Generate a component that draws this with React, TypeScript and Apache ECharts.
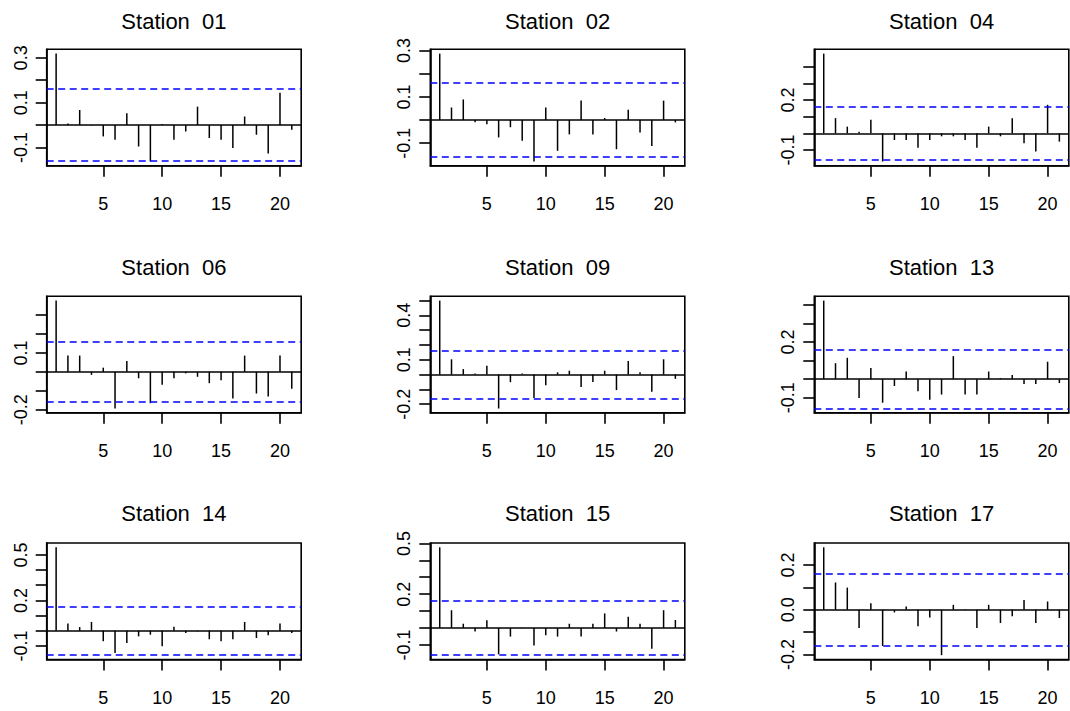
import React, { useEffect, useRef } from "react";
import * as echarts from "echarts";

const stations = ["01", "02", "04", "06", "09", "13", "14", "15", "17"];
const lags = [1, 2, 3, 4, 5, 6, 7, 8, 9, 10, 11, 12, 13, 14, 15, 16, 17, 18, 19, 20, 21];
const xTicks = [5, 10, 15, 20];

const acf01 = [0.319, 0.007, 0.067, -0.002, -0.051, -0.066, 0.053, -0.096, -0.163, 0.005, -0.066, -0.029, 0.082, -0.058, -0.066, -0.103, 0.038, -0.044, -0.127, 0.144, -0.021];
const acf02 = [0.287, 0.054, 0.089, -0.010, -0.018, -0.075, -0.031, -0.089, -0.179, 0.054, -0.133, -0.062, 0.084, -0.062, 0.009, -0.126, 0.045, -0.054, -0.112, 0.084, -0.010];
const acf04 = [0.478, 0.091, 0.040, 0.010, 0.081, -0.169, -0.040, -0.040, -0.087, -0.040, -0.018, -0.018, -0.040, -0.087, 0.040, -0.018, 0.091, -0.060, -0.109, 0.171, -0.050];
const acf06 = [0.377, 0.086, 0.086, -0.016, 0.022, -0.194, 0.057, -0.034, -0.166, -0.069, -0.034, -0.008, -0.026, -0.060, -0.045, -0.141, 0.086, -0.115, -0.130, 0.086, -0.089];
const acf09 = [0.499, 0.103, 0.037, 0.007, 0.059, -0.229, -0.051, 0.007, -0.158, -0.073, 0.015, 0.026, -0.084, -0.051, 0.026, -0.105, 0.092, 0.015, -0.116, 0.103, -0.029];
const acf13 = [0.423, 0.086, 0.115, -0.101, 0.060, -0.127, -0.037, 0.041, -0.065, -0.111, -0.083, 0.124, -0.083, -0.083, 0.041, 0.005, 0.023, -0.026, -0.026, 0.094, -0.021];
const acf14 = [0.550, 0.048, 0.024, 0.058, -0.069, -0.147, -0.080, -0.037, -0.026, -0.102, 0.026, -0.015, -0.004, -0.056, -0.069, -0.056, 0.058, -0.048, -0.030, 0.048, -0.015];
const acf15 = [0.477, 0.105, 0.025, -0.021, 0.045, -0.156, -0.051, 0.002, -0.104, -0.043, -0.051, 0.025, -0.051, 0.025, 0.086, -0.021, 0.066, 0.025, -0.123, 0.105, 0.047];
const acf17 = [0.279, 0.122, 0.099, -0.081, 0.029, -0.162, -0.012, 0.015, -0.074, -0.035, -0.203, 0.022, 0.002, -0.081, 0.022, -0.059, -0.029, 0.044, -0.059, 0.037, -0.037];

const acfs = [acf01, acf02, acf04, acf06, acf09, acf13, acf14, acf15, acf17];
const clims = [0.159, 0.161, 0.158, 0.158, 0.158, 0.158, 0.161, 0.161, 0.156];

const yTicks = [
  [-0.1, 0, 0.1, 0.2, 0.3],
  [-0.1, 0, 0.1, 0.2, 0.3],
  [-0.1, 0, 0.1, 0.2, 0.3, 0.4],
  [-0.2, -0.1, 0, 0.1, 0.2, 0.3],
  [-0.2, -0.1, 0, 0.1, 0.2, 0.3, 0.4, 0.5],
  [-0.1, 0, 0.1, 0.2, 0.3, 0.4],
  [-0.1, 0, 0.1, 0.2, 0.3, 0.4, 0.5],
  [-0.1, 0, 0.1, 0.2, 0.3, 0.4, 0.5],
  [-0.2, -0.1, 0, 0.1, 0.2],
];
const yLabels = [
  [-0.1, 0.1, 0.3],
  [-0.1, 0.1, 0.3],
  [-0.1, 0.2],
  [-0.2, 0.1],
  [-0.2, 0.1, 0.4],
  [-0.1, 0.2],
  [-0.1, 0.2, 0.5],
  [-0.1, 0.2, 0.5],
  [-0.2, 0.0, 0.2],
];

const colLeft = [46.7, 430.3, 814.3];
const rowTop = [49.3, 296.3, 543];
const boxW = 254.5;
const boxH = 116.5;
const titleY = [21, 267.2, 513.7];
const FONT = "'Liberation Sans', Arial, Helvetica, sans-serif";

export default function App() {
  const ref = useRef<HTMLDivElement>(null);
  useEffect(() => {
    if (!ref.current) return;
    const chart = echarts.init(ref.current, null, { renderer: "svg" });
    const grids: any[] = [];
    const xAxes: any[] = [];
    const yAxes: any[] = [];
    const series: any[] = [];
    const graphics: any[] = [];
    const lineW = 1.6;
    stations.forEach((st, i) => {
      const r = Math.floor(i / 3);
      const c = i % 3;
      const acf = acfs[i];
      const clim = clims[i];
      const lo = Math.min(-clim, ...acf);
      const hi = Math.max(clim, ...acf);
      const ext = (hi - lo) * 0.04;
      const xlo = lags[0] - (lags[lags.length - 1] - lags[0]) * 0.04;
      const xhi = lags[lags.length - 1] + (lags[lags.length - 1] - lags[0]) * 0.04;
      grids.push({
        left: colLeft[c],
        top: rowTop[r],
        width: boxW,
        height: boxH,
        show: true,
        borderColor: "#000",
        borderWidth: lineW,
        backgroundColor: "transparent",
        outerBoundsMode: "none",
        containLabel: false,
      });
      xAxes.push({
        type: "value",
        gridIndex: i,
        min: xlo,
        max: xhi,
        axisLine: { show: true, onZero: false, lineStyle: { color: "#000", width: lineW } },
        axisTick: { show: true, length: 11, customValues: xTicks, lineStyle: { color: "#000", width: lineW } },
        axisLabel: { customValues: xTicks, margin: 29, fontSize: 18, color: "#000", fontFamily: FONT },
        splitLine: { show: false },
      });
      yAxes.push({
        type: "value",
        gridIndex: i,
        min: lo - ext,
        max: hi + ext,
        axisLine: { show: true, onZero: false, lineStyle: { color: "#000", width: lineW } },
        axisTick: { show: true, length: 11, customValues: yTicks[i], lineStyle: { color: "#000", width: lineW } },
        axisLabel: {
          customValues: yLabels[i],
          rotate: 90,
          margin: 17,
          fontSize: 18,
          color: "#000",
          fontFamily: FONT,
          formatter: (v: number) => (Math.abs(v) < 1e-9 ? "0.0" : v.toFixed(1)),
        },
        splitLine: { show: false },
      });
      series.push({
        type: "bar",
        xAxisIndex: i,
        yAxisIndex: i,
        data: lags.map((l, j) => [l, acf[j]]),
        barWidth: 1.5,
        itemStyle: { color: "#000" },
        silent: true,
        markLine: {
          silent: true,
          symbol: ["none", "none"],
          label: { show: false },
          emphasis: { disabled: true },
          data: [
            { yAxis: clim, lineStyle: { color: "#0000ff", type: [7, 4.5], width: lineW } },
            { yAxis: -clim, lineStyle: { color: "#0000ff", type: [7, 4.5], width: lineW } },
            { yAxis: 0, lineStyle: { color: "#000", type: "solid", width: lineW } },
          ],
        },
      });
      graphics.push({
        type: "text",
        x: colLeft[c] + boxW / 2,
        y: titleY[r],
        style: {
          text: "Station  " + st,
          fontSize: 22,
          fontFamily: FONT,
          fill: "#000",
          align: "center",
          verticalAlign: "middle",
        },
      });
    });
    chart.setOption({
      animation: false,
      backgroundColor: "#fff",
      grid: grids,
      xAxis: xAxes,
      yAxis: yAxes,
      series,
      graphic: graphics,
    });
    return () => chart.dispose();
  }, []);
  return (
    <div
      ref={ref}
      style={{ position: "fixed", left: 0, top: 0, width: 1070, height: 711, background: "#fff" }}
    />
  );
}
